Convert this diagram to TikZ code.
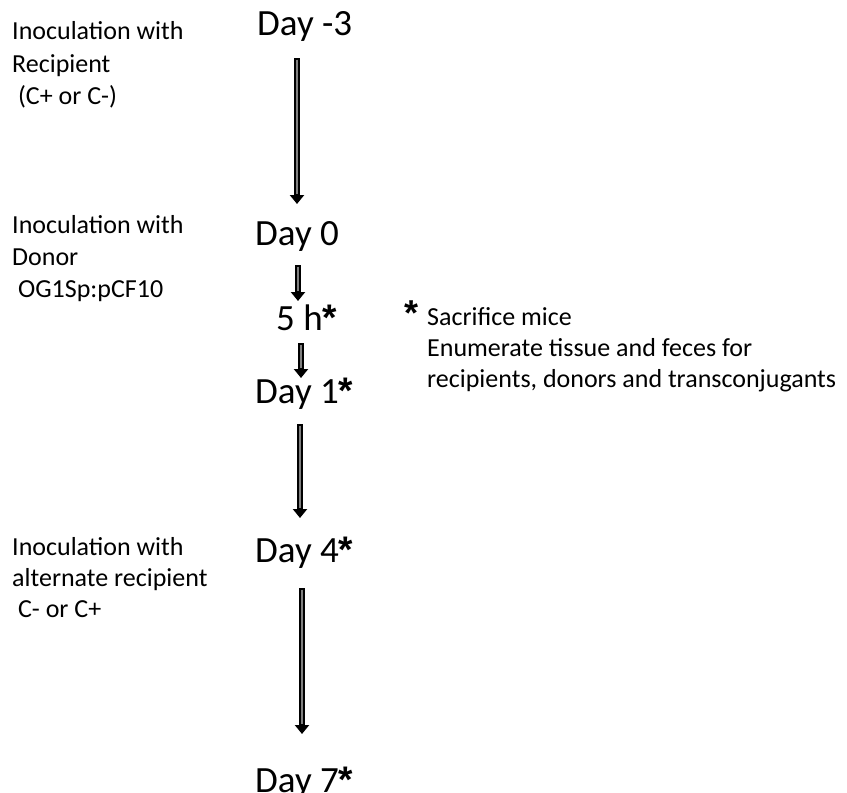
\documentclass[tikz,border=0pt]{standalone}
\usepackage{fontspec}
\setmainfont{Carlito}
\newfontfamily\astfont{Liberation Sans}
\newcommand{\myast}{{\astfont\bfseries *}}
\usetikzlibrary{arrows.meta}
\tikzset{
  day/.style={anchor=base west, inner sep=0pt, font=\fontsize{37}{44}\selectfont},
  side/.style={anchor=base west, inner sep=0pt, align=left, font=\fontsize{26}{32}\selectfont},
  flowarrow/.style={line width=6.5pt, black, -{Triangle[length=9pt,width=14pt]}},
  flowcore/.style={line width=1.8pt, black!50, shorten >=10pt, shorten <=1.5pt}
}
\begin{document}
\begin{tikzpicture}[x=1pt,y=-1pt]
\useasboundingbox (0,0) rectangle (847,793);
% day labels
\node[day] (d3) at (257,35) {Day -3};
\node[day] (d0) at (255,245) {Day 0};
\node[day] (h5) at (276,330) {5 h\myast};
\node[day] (d1) at (255,403) {Day 1\myast};
\node[day] (d4) at (255,562) {Day 4\myast};
\node[day] (d7) at (255,792) {Day 7\myast};
% side texts
\node[side] (s1) at (12,39) {Inoculation with};
\node[side] (s1b) at (12,72) {Recipient};
\node[side] (s1c) at (12,104) {\ (C+ or C-)};
\node[side] (s2) at (12,233) {Inoculation with};
\node[side] (s2b) at (12,265) {Donor};
\node[side] (s2c) at (12,297) {\ OG1Sp:pCF10};
\node[side] (s3) at (12,555) {Inoculation with};
\node[side] (s3b) at (12,586) {alternate recipient};
\node[side] (s3c) at (12,617) {\ C- or C+};
% note
\node[anchor=base west, inner sep=0pt, font=\fontsize{36}{40}\selectfont] (star) at (404,325) {\myast};
\node[side] (n1) at (427,325) {Sacrifice mice};
\node[side] (n2) at (427,356) {Enumerate tissue and feces for};
\node[side] (n3) at (427,387) {recipients, donors and transconjugants};
% arrow end points
\coordinate (a1s) at (297,58);  \coordinate (a1e) at (297,204);
\coordinate (a2s) at (298,265); \coordinate (a2e) at (298,301);
\coordinate (a3s) at (301,343); \coordinate (a3e) at (301,378);
\coordinate (a4s) at (300,424); \coordinate (a4e) at (300,518);
\coordinate (a5s) at (302,588); \coordinate (a5e) at (302,734);
\foreach \s/\e in {a1s/a1e,a2s/a2e,a3s/a3e,a4s/a4e,a5s/a5e}{
  \draw[flowarrow] (\s) -- (\e);
  \draw[flowcore] (\s) -- (\e);
}
\end{tikzpicture}
\end{document}
